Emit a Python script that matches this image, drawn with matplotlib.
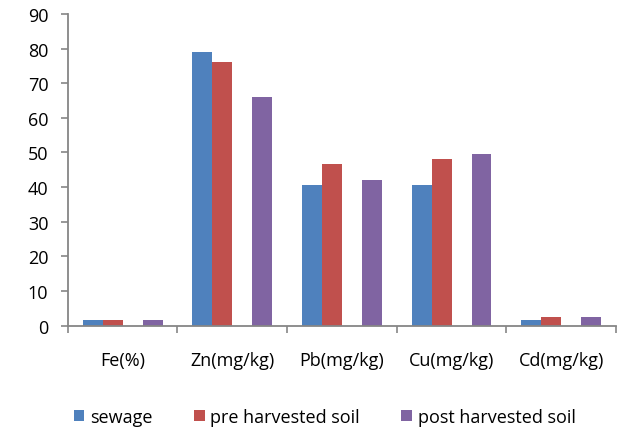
import matplotlib
matplotlib.use("Agg")
import matplotlib.pyplot as plt
import numpy as np

categories = ["Fe(%)", "Zn(mg/kg)", "Pb(mg/kg)", "Cu(mg/kg)", "Cd(mg/kg)"]
sewage = [1.6, 79.0, 40.5, 40.5, 1.6]
pre_harvested = [1.6, 76.2, 46.7, 48.1, 2.6]
post_harvested = [1.6, 66.1, 41.9, 49.5, 2.5]
series_names = ["sewage", "pre harvested soil", "post harvested soil"]
yticks = [0, 10, 20, 30, 40, 50, 60, 70, 80, 90]

plt.rcParams['font.family'] = ['Open Sans', 'DejaVu Sans']
colors = ["#4F81BD", "#C0504D", "#8064A2"]
gray = "#868686"
fs = 13

fig = plt.figure(figsize=(6.4, 4.35), dpi=100)
ax = fig.add_axes([0.1058, 0.2494, 0.9625 - 0.1058, 0.9655 - 0.2494])

x = np.arange(len(categories))
w = 0.1823
slots = [-1.5, -0.5, 1.5]
handles = []
for vals, s, c, n in zip([sewage, pre_harvested, post_harvested], slots, colors, series_names):
    h = ax.bar(x + s * w, vals, width=w, color=c, label=n, linewidth=0)
    handles.append(h)

ax.set_xlim(-0.5, len(categories) - 0.5)
ax.set_ylim(0, 90)
ax.set_yticks(yticks)
ax.set_yticklabels([str(t) for t in yticks], fontsize=fs)
ax.set_xticks(np.arange(len(categories) + 1) - 0.5)
ax.set_xticklabels([])
ax.set_xticks(x, minor=True)
ax.set_xticklabels(categories, minor=True, fontsize=fs)
ax.tick_params(axis='x', which='minor', length=0, pad=18)
ax.tick_params(axis='x', which='major', length=5, color=gray, width=1.2, direction='out')
ax.tick_params(axis='y', length=5, color=gray, width=1.2, direction='out', pad=9)
for sp in ['top', 'right']:
    ax.spines[sp].set_visible(False)
for sp in ['left', 'bottom']:
    ax.spines[sp].set_color(gray)
    ax.spines[sp].set_linewidth(1.3)

fig.legend(handles=handles, labels=series_names, loc='center', bbox_to_anchor=(324.5 / 640, 1 - 418 / 435),
           ncol=3, frameon=False, fontsize=fs, handlelength=0.6, handleheight=0.6,
           handletextpad=0.3, columnspacing=2.3)

fig.savefig("out.png", dpi=100)
